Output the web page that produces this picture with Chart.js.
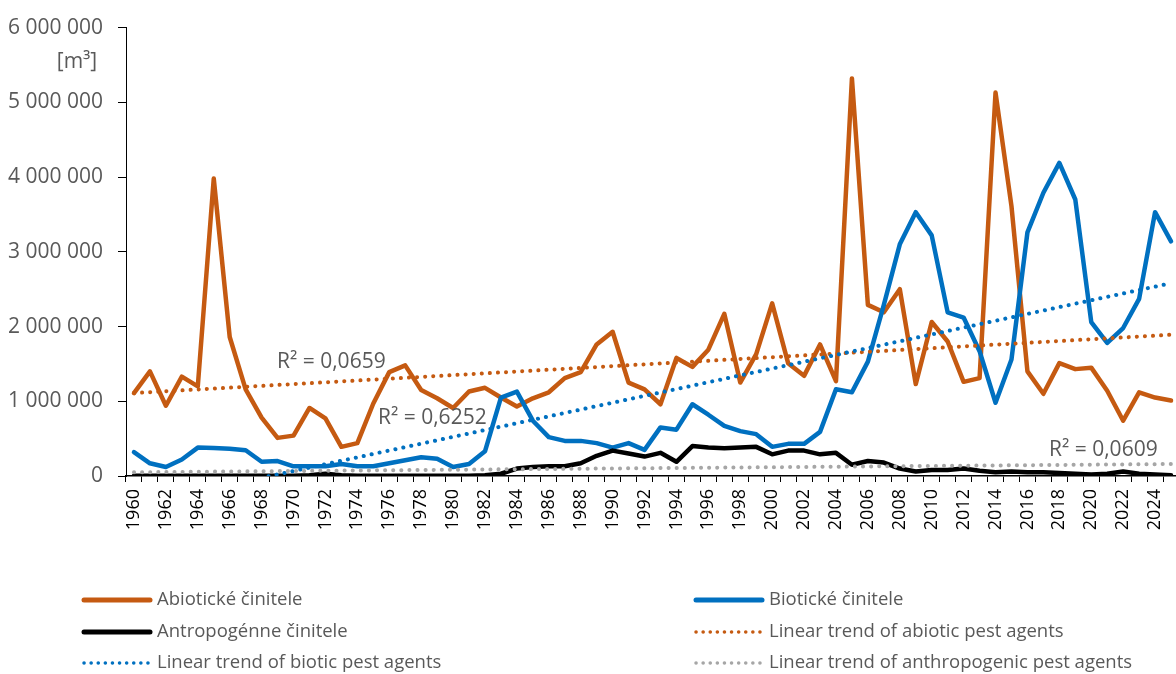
<!DOCTYPE html>
<html>
<head>
<meta charset="utf-8">
<title>Pest agents</title>
<script src="https://cdn.jsdelivr.net/npm/chart.js@4.4.1/dist/chart.umd.min.js"></script>
<style>
html, body { margin: 0; padding: 0; background: #fff; overflow: hidden; }
#wrap { width: 1179px; height: 674px; }
</style>
</head>
<body>
<div id="wrap"><canvas id="chart" width="1179" height="674"></canvas></div>
<script>
const years = [1960,1961,1962,1963,1964,1965,1966,1967,1968,1969,
  1970,1971,1972,1973,1974,1975,1976,1977,1978,1979,
  1980,1981,1982,1983,1984,1985,1986,1987,1988,1989,
  1990,1991,1992,1993,1994,1995,1996,1997,1998,1999,
  2000,2001,2002,2003,2004,2005,2006,2007,2008,2009,
  2010,2011,2012,2013,2014,2015,2016,2017,2018,2019,
  2020,2021,2022,2023,2024,2025];

const abiotic = [1110000,1400000,940000,1330000,1200000,3980000,1860000,1160000,780000,510000,
  540000,910000,770000,390000,440000,970000,1390000,1480000,1150000,1040000,
  910000,1130000,1180000,1050000,930000,1040000,1120000,1310000,1390000,1760000,
  1930000,1250000,1160000,960000,1580000,1460000,1690000,2170000,1250000,1630000,
  2310000,1510000,1340000,1760000,1270000,5320000,2290000,2190000,2500000,1230000,
  2060000,1800000,1260000,1310000,5130000,3610000,1400000,1100000,1510000,1430000,
  1450000,1140000,740000,1120000,1050000,1010000];

const biotic = [320000,170000,120000,220000,380000,375000,365000,345000,190000,200000,
  130000,130000,130000,160000,130000,130000,170000,210000,250000,230000,
  120000,160000,330000,1050000,1130000,740000,520000,470000,470000,440000,
  380000,440000,350000,650000,620000,960000,820000,670000,600000,560000,
  390000,430000,430000,590000,1160000,1120000,1530000,2290000,3100000,3530000,
  3220000,2190000,2120000,1670000,980000,1560000,3260000,3790000,4190000,3700000,
  2060000,1780000,1980000,2370000,3530000,3140000];

const anthropogenic = [5000,5000,5000,5000,5000,5000,5000,5000,5000,5000,
  5000,10000,30000,10000,5000,5000,5000,5000,5000,5000,
  5000,5000,10000,30000,100000,120000,130000,130000,170000,270000,
  340000,300000,260000,310000,190000,400000,380000,370000,380000,390000,
  290000,340000,340000,290000,310000,150000,200000,180000,100000,60000,
  80000,80000,100000,70000,50000,60000,50000,50000,40000,30000,
  20000,30000,60000,30000,20000,10000];

// trend line values at 1960 and 2025
const abioticTrendEnds = [1110000, 1890000];
const bioticTrendEnds = [-390000, 2580000];
const anthropogenicTrendEnds = [50000, 160000];

const yTicks = [0, 1000000, 2000000, 3000000, 4000000, 5000000, 6000000];
const r2Labels = ['R² = 0,0659', 'R² = 0,6252', 'R² = 0,0609'];

const ORANGE = '#C55A11';
const BLUE = '#0070C0';
const BLACK = '#000000';
const GREY = '#A6A6A6';
const TEXT = '#595959';
const FONT = '"Open Sans", "Liberation Sans", sans-serif';

function endsToSeries(ends) {
  return years.map((y, i) => i === 0 ? ends[0] : (i === years.length - 1 ? ends[1] : null));
}

function fmt(v) {
  return String(v).replace(/\B(?=(\d{3})+(?!\d))/g, ' ');
}

const legendItems = [
  { text: 'Abiotické činitele', color: ORANGE, dotted: false, col: 0, row: 0 },
  { text: 'Biotické činitele', color: BLUE, dotted: false, col: 1, row: 0 },
  { text: 'Antropogénne činitele', color: BLACK, dotted: false, col: 0, row: 1 },
  { text: 'Linear trend of abiotic pest agents', color: ORANGE, dotted: true, col: 1, row: 1 },
  { text: 'Linear trend of biotic pest agents', color: BLUE, dotted: true, col: 0, row: 2 },
  { text: 'Linear trend of anthropogenic pest agents', color: GREY, dotted: true, col: 1, row: 2 }
];

const extrasPlugin = {
  id: 'extras',
  afterDatasetsDraw(chart) {
    const ctx = chart.ctx;
    ctx.save();
    ctx.fillStyle = TEXT;
    ctx.font = '21px ' + FONT;
    ctx.textBaseline = 'middle';
    ctx.textAlign = 'left';
    ctx.fillText(r2Labels[0], 277, 362);
    ctx.fillText(r2Labels[1], 378, 418);
    ctx.fillText(r2Labels[2], 1049, 450);
    ctx.textAlign = 'center';
    ctx.fillText('[m³]', 77, 62);
    ctx.restore();
  },
  afterDraw(chart) {
    const ctx = chart.ctx;
    const colX = [81, 693];
    const rowY = [600, 632, 663];
    ctx.save();
    ctx.font = '18.5px ' + FONT;
    ctx.textBaseline = 'middle';
    ctx.textAlign = 'left';
    legendItems.forEach(item => {
      const x = colX[item.col];
      const y = rowY[item.row];
      ctx.beginPath();
      ctx.strokeStyle = item.color;
      ctx.lineCap = 'round';
      if (item.dotted) {
        ctx.lineWidth = 3.5;
        ctx.setLineDash([0.1, 7]);
      } else {
        ctx.lineWidth = 5;
        ctx.setLineDash([]);
      }
      ctx.moveTo(x + 3, y);
      ctx.lineTo(x + 69, y);
      ctx.stroke();
      ctx.fillStyle = TEXT;
      ctx.fillText(item.text, x + 76, y);
    });
    ctx.restore();
  }
};

const solid = (label, data, color, order) => ({
  label, data, order,
  borderColor: color,
  backgroundColor: color,
  borderWidth: 4.5,
  pointRadius: 0,
  tension: 0,
  borderJoinStyle: 'round',
  borderCapStyle: 'round',
  fill: false
});

const trend = (label, ends, color, order) => ({
  label, order,
  data: endsToSeries(ends),
  borderColor: color,
  backgroundColor: color,
  borderWidth: 4,
  borderDash: [0.1, 8],
  borderCapStyle: 'round',
  pointRadius: 0,
  spanGaps: true,
  clip: 0,
  fill: false
});

const chart = new Chart(document.getElementById('chart').getContext('2d'), {
  type: 'line',
  data: {
    labels: years,
    datasets: [
      solid('Abiotické činitele', abiotic, ORANGE, 6),
      solid('Biotické činitele', biotic, BLUE, 5),
      solid('Antropogénne činitele', anthropogenic, BLACK, 4),
      trend('Linear trend of abiotic pest agents', abioticTrendEnds, ORANGE, 3),
      trend('Linear trend of biotic pest agents', bioticTrendEnds, BLUE, 2),
      trend('Linear trend of anthropogenic pest agents', anthropogenicTrendEnds, GREY, 1)
    ]
  },
  options: {
    responsive: false,
    animation: false,
    devicePixelRatio: 1,
    layout: { padding: { top: 23, right: 0, bottom: 0, left: 0 } },
    plugins: {
      legend: { display: false },
      tooltip: { enabled: false }
    },
    scales: {
      x: {
        type: 'category',
        offset: true,
        grid: { offset: true, drawOnChartArea: false, drawTicks: true, tickLength: 6, color: BLACK, lineWidth: 1 },
        border: { display: true, color: BLACK, width: 1.5 },
        ticks: {
          autoSkip: false,
          maxRotation: 90,
          minRotation: 90,
          padding: 7,
          color: BLACK,
          font: { family: FONT, size: 18 },
          callback: (val, idx) => (years[idx] % 2 === 0 ? String(years[idx]) : '')
        },
        afterFit: (s) => { s.height = 198; s.paddingLeft = 0; s.paddingRight = 0; }
      },
      y: {
        min: yTicks[0],
        max: yTicks[yTicks.length - 1],
        afterBuildTicks: (s) => { s.ticks = yTicks.map(v => ({ value: v })); },
        grid: { drawOnChartArea: false, drawTicks: true, tickLength: 8, color: BLACK, lineWidth: 1 },
        border: { display: true, color: BLACK, width: 1 },
        ticks: {
          padding: 15,
          color: TEXT,
          font: { family: FONT, size: 21 },
          callback: (v) => fmt(v)
        },
        afterFit: (s) => { s.width = 126; }
      }
    }
  },
  plugins: [extrasPlugin]
});
</script>
</body>
</html>
